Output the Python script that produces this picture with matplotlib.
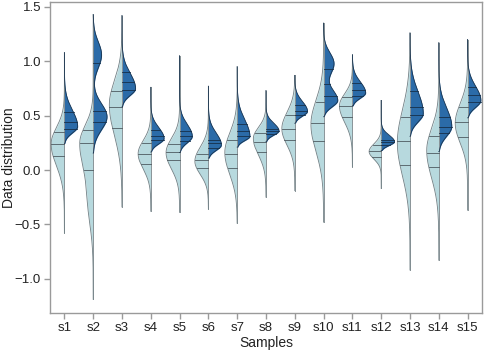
import numpy as np
import matplotlib
matplotlib.use("Agg")
import matplotlib.pyplot as plt

plt.rcParams['font.family'] = ['Liberation Sans', 'DejaVu Sans']

samples = [f"s{i}" for i in range(1, 16)]

# Light (left) half: range, mode, max half-width, lower/upper spread
light_lo   = [-0.58, -1.19, -0.34, -0.38, -0.39, -0.36, -0.49, -0.25, -0.19, -0.48, 0.03, -0.17, -0.92, -0.83, -0.37]
light_mode = [0.24, 0.25, 0.60, 0.15, 0.16, 0.08, 0.16, 0.29, 0.38, 0.42, 0.59, 0.17, 0.25, 0.18, 0.43]
light_w    = [0.46, 0.46, 0.44, 0.44, 0.47, 0.47, 0.43, 0.44, 0.45, 0.44, 0.45, 0.42, 0.44, 0.42, 0.43]
light_sl   = [0.20, 0.24, 0.28, 0.14, 0.15, 0.12, 0.20, 0.15, 0.15, 0.25, 0.15, 0.07, 0.30, 0.25, 0.18]
light_su   = [0.15, 0.16, 0.22, 0.12, 0.13, 0.13, 0.18, 0.10, 0.15, 0.22, 0.11, 0.07, 0.30, 0.20, 0.18]
# secondary bump (shoulder) of the light half
light_mode2 = [0, -0.30, 0, 0, 0, 0, 0, 0, 0, 0, 0, 0, 0, 0, 0]
light_w2    = [0, 0.17, 0, 0, 0, 0, 0, 0, 0, 0, 0, 0, 0, 0, 0]
light_s2    = [0.1, 0.22, 0.1, 0.1, 0.1, 0.1, 0.1, 0.1, 0.1, 0.1, 0.1, 0.1, 0.1, 0.1, 0.1]
light_q = [[0.13, 0.24, 0.35], [0.00, 0.25, 0.37], [0.39, 0.58, 0.73], [0.055, 0.15, 0.25],
           [0.09, 0.17, 0.24], [0.015, 0.09, 0.15], [0.02, 0.15, 0.28], [0.17, 0.26, 0.34],
           [0.28, 0.38, 0.51], [0.27, 0.43, 0.63], [0.49, 0.59, 0.67], [0.12, 0.175, 0.23],
           [0.05, 0.27, 0.49], [0.03, 0.16, 0.31], [0.30, 0.44, 0.58]]

# Dark (right) half
dark_lo   = [0.245, 0.155, 0.58, 0.165, 0.16, 0.11, 0.21, 0.26, 0.43, 0.49, 0.59, 0.18, 0.31, 0.17, 0.48]
dark_hi   = [1.08, 1.43, 1.42, 0.76, 1.05, 0.77, 0.95, 0.73, 0.87, 1.35, 1.06, 0.64, 1.26, 1.17, 1.20]
dark_mode = [0.40, 0.49, 0.75, 0.29, 0.31, 0.23, 0.31, 0.36, 0.54, 0.64, 0.71, 0.26, 0.52, 0.40, 0.64]
dark_w    = [0.46, 0.48, 0.47, 0.46, 0.44, 0.45, 0.44, 0.45, 0.44, 0.49, 0.46, 0.46, 0.46, 0.45, 0.46]
dark_sl   = [0.06, 0.12, 0.065, 0.05, 0.06, 0.05, 0.04, 0.04, 0.045, 0.06, 0.05, 0.035, 0.08, 0.09, 0.065]
dark_su   = [0.15, 0.12, 0.14, 0.10, 0.11, 0.11, 0.15, 0.07, 0.09, 0.10, 0.10, 0.06, 0.20, 0.17, 0.13]
dark_mode2 = [0, 1.06, 0, 0, 0, 0, 0, 0, 0, 0.98, 0, 0, 0, 0, 0]
dark_w2    = [0, 0.29, 0, 0, 0, 0, 0, 0, 0, 0.36, 0, 0, 0, 0, 0]
dark_s2    = [0.1, 0.12, 0.1, 0.1, 0.1, 0.1, 0.1, 0.1, 0.1, 0.10, 0.1, 0.1, 0.1, 0.1, 0.1]
dark_q = [[0.38, 0.44, 0.53], [0.44, 0.54, 0.98], [0.74, 0.81, 0.90], [0.28, 0.31, 0.37],
          [0.27, 0.31, 0.36], [0.20, 0.245, 0.28], [0.31, 0.36, 0.42], [0.33, 0.36, 0.38],
          [0.51, 0.54, 0.60], [0.68, 0.79, 0.93], [0.68, 0.74, 0.80], [0.23, 0.26, 0.28],
          [0.51, 0.58, 0.73], [0.34, 0.40, 0.49], [0.63, 0.69, 0.76]]

LIGHT = "#b7d9de"
DARK = "#2b6ba8"
LIGHT_EDGE = "#6f7f84"
DARK_EDGE = "#1b3550"


def profile(y, mode, w, sl, su, mode2, w2, s2, lo, hi):
    sig = np.where(y < mode, sl, su)
    d = w * np.exp(-0.5 * ((y - mode) / sig) ** 2)
    if w2 > 0:
        d = d + w2 * np.exp(-0.5 * ((y - mode2) / s2) ** 2)
    d[(y < lo) | (y > hi)] = 0
    return d


fig = plt.figure(figsize=(4.84, 3.51), dpi=100)
ax = fig.add_axes([50 / 484, 1 - 313.3 / 351, (482.3 - 50) / 484, (313.3 - 1.7) / 351])

for i in range(len(samples)):
    c = i
    ax.plot([c, c], [light_lo[i], dark_hi[i]], color="#8a9498", lw=0.7, zorder=2)

    yl = np.linspace(light_lo[i], dark_hi[i], 600)
    wl = profile(yl, light_mode[i], light_w[i], light_sl[i], light_su[i],
                 light_mode2[i], light_w2[i], light_s2[i], light_lo[i], dark_hi[i])
    ax.fill_betweenx(yl, c - wl, c, color=LIGHT, lw=0, zorder=1)
    ax.plot(c - wl, yl, color=LIGHT_EDGE, lw=0.6, zorder=3)
    for q in light_q[i]:
        wq = np.interp(q, yl, wl)
        ax.plot([c - wq, c], [q, q], color="#4d5a60", lw=0.6, zorder=3)

    yd = np.linspace(dark_lo[i], dark_hi[i], 600)
    wd = profile(yd, dark_mode[i], dark_w[i], dark_sl[i], dark_su[i],
                 dark_mode2[i], dark_w2[i], dark_s2[i], dark_lo[i], dark_hi[i])
    ax.fill_betweenx(yd, c, c + wd, color=DARK, lw=0, zorder=1)
    ax.plot(np.r_[c, c + wd], np.r_[yd[0], yd], color=DARK_EDGE, lw=0.6, zorder=3)
    for q in dark_q[i]:
        wq = np.interp(q, yd, wd)
        ax.plot([c, c + wq], [q, q], color="#16304a", lw=0.6, zorder=3)

ax.set_xlim(-0.5, 14.51)
ax.set_ylim(-1.318, 1.548)
ax.set_xticks(range(len(samples)))
ax.set_xticklabels(samples)
ax.set_yticks([-1.0, -0.5, 0.0, 0.5, 1.0, 1.5])
ax.set_yticklabels(["\u22121.0", "\u22120.5", "0.0", "0.5", "1.0", "1.5"])
for s in ax.spines.values():
    s.set_color("#9a9a9a")
    s.set_linewidth(1.0)
ax.tick_params(colors="#9a9a9a", labelcolor="#222222", labelsize=9.5, length=4, width=1.0, pad=2.5)
ax.set_xlabel("Samples", fontsize=10, color="#222222")
ax.set_ylabel("Data distribution", fontsize=10, color="#222222")
ax.yaxis.set_label_coords((9 - 50) / 432.3, 0.5)
ax.xaxis.set_label_coords(0.5, -(343 - 313.3) / 311.6)
ax.xaxis.label.set_va("center")
ax.yaxis.label.set_va("center")

fig.savefig("out.png", dpi=100)
